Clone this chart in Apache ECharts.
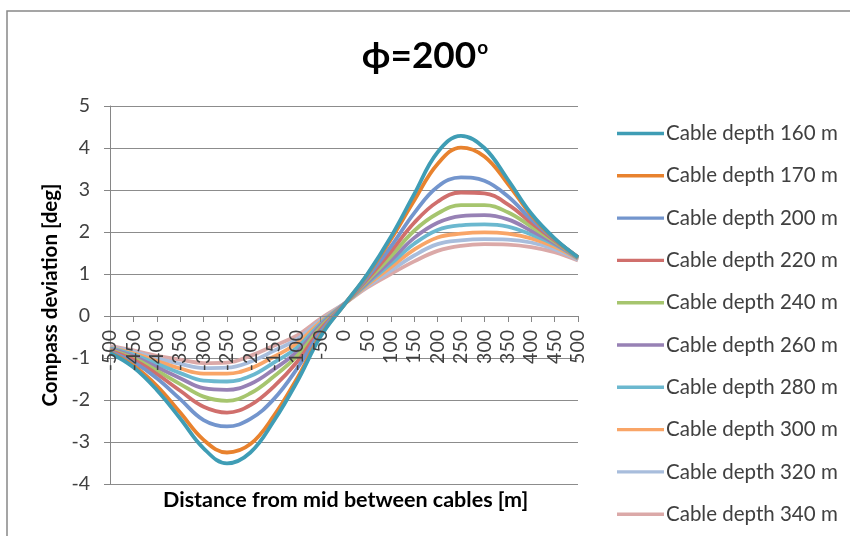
<!DOCTYPE html>
<html>
<head>
<meta charset="utf-8">
<script src="https://cdn.jsdelivr.net/npm/echarts@6/dist/echarts.min.js"></script>
<style>
  html, body { margin: 0; padding: 0; background: #fff; }
  #chart { width: 850px; height: 536px; }
</style>
</head>
<body>
<div id="chart"></div>
<script>
// Distance from mid between cables [m]
const distances = [-500,-450,-400,-350,-300,-250,-200,-150,-100,-50,0,50,100,150,200,250,300,350,400,450,500];

const seriesNames = ['Cable depth 160 m','Cable depth 170 m','Cable depth 200 m','Cable depth 220 m','Cable depth 240 m',
                     'Cable depth 260 m','Cable depth 280 m','Cable depth 300 m','Cable depth 320 m','Cable depth 340 m'];

const depth160 = [-0.88,-1.22,-1.76,-2.44,-3.15,-3.51,-3.25,-2.50,-1.56,-0.49,0.26,1.00,1.88,2.90,3.90,4.29,4.00,3.25,2.44,1.85,1.40];
const depth170 = [-0.87,-1.18,-1.66,-2.30,-2.95,-3.25,-3.05,-2.38,-1.48,-0.46,0.26,0.98,1.82,2.75,3.62,4.01,3.80,3.15,2.40,1.83,1.40];
const depth200 = [-0.85,-1.10,-1.48,-1.98,-2.48,-2.63,-2.45,-1.98,-1.25,-0.38,0.27,0.92,1.65,2.45,3.08,3.30,3.22,2.85,2.30,1.82,1.40];
const depth220 = [-0.83,-1.04,-1.38,-1.78,-2.16,-2.30,-2.12,-1.68,-1.09,-0.32,0.27,0.88,1.53,2.22,2.72,2.94,2.92,2.66,2.22,1.80,1.40];
const depth240 = [-0.81,-1.00,-1.30,-1.62,-1.92,-2.02,-1.84,-1.44,-0.95,-0.27,0.27,0.84,1.42,2.03,2.44,2.64,2.64,2.47,2.13,1.77,1.39];
const depth260 = [-0.79,-0.96,-1.22,-1.48,-1.72,-1.76,-1.62,-1.27,-0.85,-0.22,0.28,0.80,1.32,1.86,2.22,2.38,2.40,2.30,2.03,1.73,1.38];
const depth280 = [-0.77,-0.92,-1.14,-1.36,-1.54,-1.56,-1.43,-1.11,-0.75,-0.18,0.28,0.77,1.24,1.72,2.05,2.16,2.18,2.13,1.94,1.70,1.37];
const depth300 = [-0.76,-0.89,-1.07,-1.25,-1.37,-1.37,-1.25,-0.97,-0.65,-0.14,0.28,0.74,1.16,1.58,1.87,1.96,1.99,1.96,1.85,1.65,1.36];
const depth320 = [-0.74,-0.85,-1.01,-1.14,-1.24,-1.23,-1.09,-0.83,-0.55,-0.10,0.29,0.71,1.08,1.44,1.71,1.80,1.83,1.82,1.75,1.59,1.34];
const depth340 = [-0.72,-0.82,-0.95,-1.04,-1.12,-1.11,-0.95,-0.71,-0.46,-0.06,0.29,0.68,1.00,1.30,1.55,1.67,1.71,1.70,1.64,1.52,1.32];

const yTicks = [-4,-3,-2,-1,0,1,2,3,4,5];

const allSeries = [depth160,depth170,depth200,depth220,depth240,depth260,depth280,depth300,depth320,depth340];
const colors = ['#3F9DB5','#E8822E','#7395CD','#D06F6C','#A6C56E','#9781B5','#6BB8CF','#F9A567','#A8BDDC','#DBA9A8'];

const FONT = 'Lato, "Open Sans", sans-serif';
const GRID_TOP = 106, GRID_BOTTOM_PX = 484;
const Y_MIN = yTicks[0], Y_MAX = yTicks[yTicks.length - 1];
// move the x axis up to the y = 0 line
const zeroOffset = -(GRID_BOTTOM_PX - GRID_TOP) * (0 - Y_MIN) / (Y_MAX - Y_MIN);

const chart = echarts.init(document.getElementById('chart'), null, {renderer: 'canvas'});

chart.setOption({
  animation: false,
  color: colors,
  title: {
    text: '{a|ϕ=200}{s|o}',
    left: 'center',
    top: 33,
    textStyle: {
      rich: {
        a: { fontFamily: FONT, fontWeight: 'bold', fontSize: 37, color: '#000' },
        s: { fontFamily: FONT, fontWeight: 'bold', fontSize: 19, color: '#000', verticalAlign: 'top', padding: [0,0,16,1] }
      }
    }
  },
  grid: { left: 110, right: 272, top: GRID_TOP, bottom: 536 - GRID_BOTTOM_PX, containLabel: false },
  legend: {
    orient: 'vertical',
    left: 612,
    top: 118,
    itemWidth: 47,
    itemHeight: 20,
    itemGap: 21.3,
    icon: 'path://M0,8.3 L47,8.3 L47,11.7 L0,11.7 Z',
    textStyle: { fontFamily: FONT, fontSize: 20.5, lineHeight: 20, color: '#404040', padding: [0,0,0,-3] },
    data: seriesNames
  },
  xAxis: {
    type: 'value',
    min: -500, max: 500, interval: 50,
    position: 'bottom',
    offset: zeroOffset,
    z: 30,
    axisLine: { onZero: false, lineStyle: { color: '#868686', width: 1 } },
    axisTick: { show: true, length: 6, lineStyle: { color: '#868686' } },
    axisLabel: { rotate: 90, margin: 14, fontFamily: FONT, fontSize: 19.5, color: '#404040' },
    splitLine: { show: false }
  },
  yAxis: {
    type: 'value',
    min: Y_MIN, max: Y_MAX, interval: 1,
    name: 'Compass deviation [deg]',
    nameLocation: 'middle',
    nameGap: 46,
    nameTextStyle: { fontFamily: FONT, fontWeight: 'bold', fontSize: 20.5, color: '#000' },
    axisLine: { show: true, onZero: false, lineStyle: { color: '#868686', width: 1 } },
    axisTick: { show: true, length: 6, lineStyle: { color: '#868686' } },
    axisLabel: { margin: 20, fontFamily: FONT, fontSize: 19.5, color: '#404040' },
    splitLine: { show: true, lineStyle: { color: '#8C8C8C', width: 1 } }
  },
  graphic: [
    { type: 'rect', shape: { x: 7, y: 11, width: 900, height: 600 }, style: { fill: 'none', stroke: '#888', lineWidth: 1.5 }, silent: true, z: -1 },
    { type: 'text', left: 163, top: 489, style: { text: 'Distance from mid between cables [m]', font: 'bold 21.5px ' + FONT, fill: '#000' } }
  ],
  series: allSeries.map((vals, i) => ({
    name: seriesNames[i],
    type: 'line',
    smooth: 0.4,
    symbol: 'none',
    lineStyle: { width: 3.8, color: colors[i] },
    itemStyle: { color: colors[i] },
    z: 20 - i,
    data: distances.map((d, k) => [d, vals[k]])
  }))
});
</script>
</body>
</html>
